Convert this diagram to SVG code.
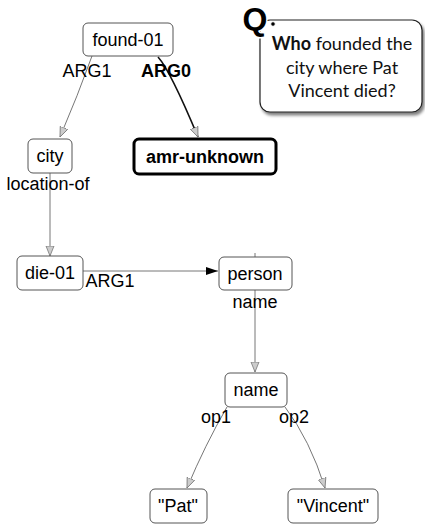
<svg xmlns="http://www.w3.org/2000/svg" width="425" height="524" viewBox="0 0 425 524">
<style>
.box{fill:#fff;stroke:#555;stroke-width:1}
.t{font-family:"Liberation Sans",Arial,sans-serif;font-size:18px;fill:#000;text-anchor:middle}
.b{font-weight:bold}
.e{fill:none;stroke:#777;stroke-width:1}
.q{font-family:Lato,"Open Sans",sans-serif;font-size:18px;fill:#111;text-anchor:middle}
</style>
<defs>
<marker id="ha" viewBox="0 0 10 10" refX="10" refY="5" markerWidth="10" markerHeight="10" markerUnits="userSpaceOnUse" orient="auto">
<path d="M0,1 L10,5 L0,9 Z" fill="#ccc" stroke="#777" stroke-width="0.8"/>
</marker>
<marker id="hb" viewBox="0 0 12 10" refX="12" refY="5" markerWidth="12" markerHeight="10" markerUnits="userSpaceOnUse" orient="auto">
<path d="M0,1 L12,5 L0,9 Z" fill="#000"/>
</marker>
<filter id="sh" x="-10%" y="-10%" width="130%" height="130%">
<feGaussianBlur in="SourceAlpha" stdDeviation="1.5"/>
<feOffset dx="2" dy="3" result="o"/>
<feComponentTransfer><feFuncA type="linear" slope="0.5"/></feComponentTransfer>
<feMerge><feMergeNode/><feMergeNode in="SourceGraphic"/></feMerge>
</filter>
</defs>
<g id="edges">
<path class="e" d="M92,56 Q78,95 60,137" marker-end="url(#ha)"/>
<path d="M158,57 Q170,70 198,137" fill="none" stroke="#111" stroke-width="1.6" marker-end="url(#ha)"/>
<path class="e" d="M50,173 L50,256" marker-end="url(#ha)"/>
<path class="e" d="M83,271 L218,271" stroke="#444" marker-end="url(#hb)"/>
<path class="e" d="M255,253 L255,257"/>
<path class="e" d="M255,290 L255,372" marker-end="url(#ha)"/>
<path class="e" d="M227,407 Q205,445 187,488" marker-end="url(#ha)"/>
<path class="e" d="M285,407 Q310,440 325,488" marker-end="url(#ha)"/>
</g>
<g id="edge-labels">
<text class="t" x="87" y="77">ARG1</text>
<text class="t b" x="166" y="77">ARG0</text>
<text class="t" x="48" y="190">location-of</text>
<text class="t" x="110" y="287">ARG1</text>
<text class="t" x="255" y="308">name</text>
<text class="t" x="216" y="423">op1</text>
<text class="t" x="294" y="423">op2</text>
</g>
<g id="found-01"><rect class="box" x="83" y="23" width="90" height="33" rx="5"/><text class="t" x="128" y="46">found-01</text></g>
<g id="city"><rect class="box" x="28" y="139" width="44" height="34" rx="5"/><text class="t" x="50" y="162">city</text></g>
<g id="amr-unknown"><rect x="134" y="139" width="142" height="35" rx="5" fill="#fff" stroke="#000" stroke-width="3"/><text class="t b" x="205" y="163">amr-unknown</text></g>
<g id="die-01"><rect class="box" x="17" y="256" width="66" height="34" rx="5"/><text class="t" x="50" y="279">die-01</text></g>
<g id="person"><rect class="box" x="219" y="257" width="73" height="33" rx="5"/><text class="t" x="255" y="280">person</text></g>
<g id="name"><rect class="box" x="225" y="373" width="62" height="34" rx="5"/><text class="t" x="256" y="396">name</text></g>
<g id="pat"><rect class="box" x="150" y="489" width="57" height="34" rx="5"/><text class="t" x="178" y="512">"Pat"</text></g>
<g id="vincent"><rect class="box" x="288" y="489" width="90" height="34" rx="5"/><text class="t" x="333" y="512">"Vincent"</text></g>
<g id="question">
<rect x="260" y="20" width="162" height="92" rx="10" fill="#fff" stroke="#222" stroke-width="1.2" filter="url(#sh)"/>
<text x="255" y="30" font-family="'Liberation Sans',Arial,sans-serif" font-weight="bold" font-size="32" text-anchor="middle" fill="#000" stroke="#fff" stroke-width="3" paint-order="stroke">Q</text>
<circle cx="273" cy="24" r="2.3" fill="#000" stroke="#fff" stroke-width="1"/>
<text class="q" x="342" y="50"><tspan font-weight="bold">Who</tspan> founded the</text>
<text class="q" x="342" y="74">city where Pat</text>
<text class="q" x="342" y="97">Vincent died?</text>
</g>
</svg>
